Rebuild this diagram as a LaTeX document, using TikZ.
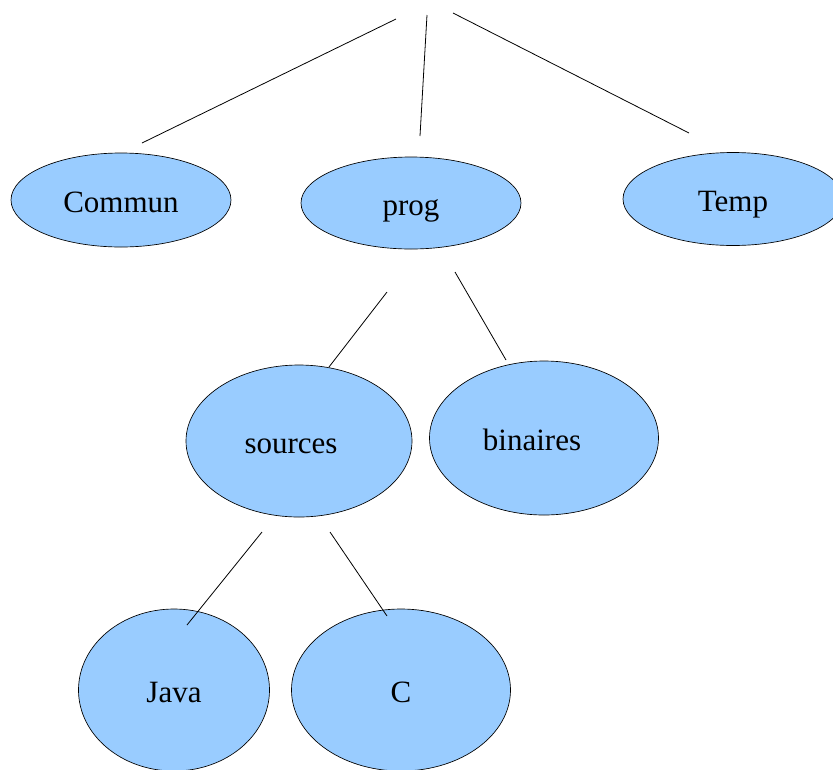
\documentclass[tikz,border=0pt]{standalone}
\usepackage{fontspec}
\setmainfont{Liberation Serif}
\usetikzlibrary{shapes.geometric}
\definecolor{dirblue}{HTML}{99CCFF}

\begin{document}
\begin{tikzpicture}[x=0.75pt, y=-0.75pt,
    every node/.style={font=\fontsize{23.25}{28}\selectfont,
        text height=18pt, text depth=0pt},
    folder/.style 2 args={ellipse, draw, line width=0.5pt, fill=dirblue,
        inner sep=0pt, minimum width=#1*0.75pt, minimum height=#2*0.75pt},
    link/.style={line width=0.6pt}]
    % Page size of the reference
    \useasboundingbox (0,0) rectangle (833,769);
    \clip (0,0) rectangle (833,769);

    % First level
    \node[folder={220}{94}] (commun) at (121,200) {Commun};
    \node[folder={220}{92}] (prog) at (411,203) {prog};
    \node[folder={220}{93}] (temp) at (733,199) {Temp};

    % Inside prog
    \node[folder={226}{152}, label={[xshift=-6pt]center:sources}] (sources) at (299,441) {};
    \node[folder={229}{154}, label={[xshift=-9pt]center:binaires}] (binaires) at (544,438) {};

    % Inside sources
    \node[folder={191}{162}] (java) at (174,690) {Java};
    \node[folder={219}{162}] (c) at (401,690) {C};

    % Loose ends of the links
    \coordinate (root-a) at (396,19);
    \coordinate (root-b) at (427,15);
    \coordinate (root-c) at (453,13);
    \coordinate (to-commun) at (142,143);
    \coordinate (to-prog) at (420,136);
    \coordinate (to-temp) at (689,133);
    \coordinate (prog-a) at (387,292);
    \coordinate (prog-b) at (455,272);
    \coordinate (to-sources) at (329,367);
    \coordinate (to-binaires) at (506,360);
    \coordinate (src-a) at (262,532);
    \coordinate (src-b) at (330,532);
    \coordinate (to-java) at (187,625);
    \coordinate (to-c) at (387,616);

    % Links
    \draw[link] (root-a) -- (to-commun);
    \draw[link] (root-b) -- (to-prog);
    \draw[link] (root-c) -- (to-temp);
    \draw[link] (prog-a) -- (to-sources);
    \draw[link] (prog-b) -- (to-binaires);
    \draw[link] (src-a) -- (to-java);
    \draw[link] (src-b) -- (to-c);
\end{tikzpicture}
\end{document}
